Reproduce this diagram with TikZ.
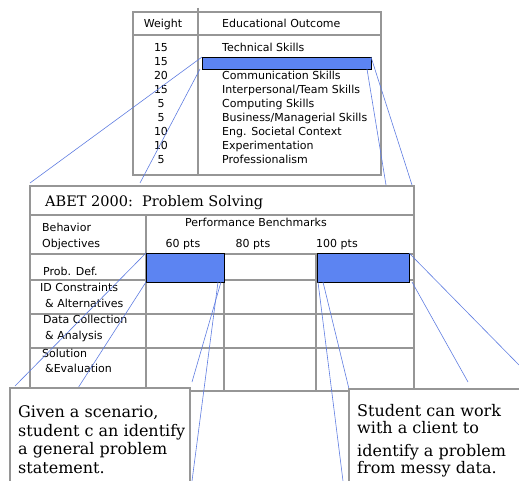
\documentclass[tikz,border=0pt]{standalone}
\usepackage{fontspec}
\setmainfont{DejaVu Serif}
\newfontfamily\tabsans{DejaVu Sans}
\definecolor{barblue}{RGB}{92,132,242}
\definecolor{linkblue}{RGB}{95,125,225}
\definecolor{gridgray}{RGB}{150,150,150}
\begin{document}
\begin{tikzpicture}[x=1pt,y=-1pt,
  grid/.style={draw=gridgray,line width=1.1pt},
  tabbox/.style={grid,inner sep=0pt,outer sep=0pt,anchor=north west},
  bluebar/.style={draw=black,line width=0.9pt,fill=barblue,inner sep=0pt,outer sep=0pt,anchor=north west},
  link/.style={draw=linkblue,line width=0.6pt},
  small/.style={font=\tabsans\fontsize{11}{13}\selectfont,inner sep=0pt},
  big/.style={font=\fontsize{16}{19}\selectfont,inner sep=0pt,anchor=base west},
  titlefont/.style={font=\fontsize{14.5}{17}\selectfont,inner sep=0pt,anchor=base west}
]
\useasboundingbox (0,0) rectangle (519,481);

% ---------- top table ----------
\node[tabbox,minimum width=248pt,minimum height=163pt] (toptab) at (133,12) {};
\draw[grid] (133,35) -- (381,35);
\draw[grid] (198,8) -- (198,175);
\node[small,anchor=base] (hw) at (163,28) {Weight};
\node[small,anchor=base west] (ho) at (222,28) {Educational Outcome};

\node[small,anchor=base] (w1) at (161,51.5) {15};
\node[small,anchor=base] (w2) at (161,65.5) {15};
\node[small,anchor=base] (w3) at (161,79.5) {20};
\node[small,anchor=base] (w4) at (161,93.5) {15};
\node[small,anchor=base] (w5) at (161,107.5) {5};
\node[small,anchor=base] (w6) at (161,121.5) {5};
\node[small,anchor=base] (w7) at (161,135.5) {10};
\node[small,anchor=base] (w8) at (161,149.5) {10};
\node[small,anchor=base] (w9) at (161,163.5) {5};

\node[small,anchor=base west] (o1) at (222,51.5) {Technical Skills};
\node[small,anchor=base west] (o3) at (222,79.5) {Communication Skills};
\node[small,anchor=base west] (o4) at (222,93.5) {Interpersonal/Team Skills};
\node[small,anchor=base west] (o5) at (222,107.5) {Computing Skills};
\node[small,anchor=base west] (o6) at (222,121.5) {Business/Managerial Skills};
\node[small,anchor=base west] (o7) at (222,135.5) {Eng. Societal Context};
\node[small,anchor=base west] (o8) at (222,149.5) {Experimentation};
\node[small,anchor=base west] (o9) at (222,163.5) {Professionalism};

\node[bluebar,minimum width=169pt,minimum height=12pt] (topbar) at (202,57) {};

% ---------- middle table ----------
\node[tabbox,minimum width=384pt,minimum height=205pt] (midtab) at (30,186) {};
\draw[grid] (30,215) -- (414,215);
\draw[grid] (30,254) -- (414,254);
\draw[grid] (30,280) -- (414,280);
\draw[grid] (30,314) -- (414,314);
\draw[grid] (30,348) -- (414,348);
\draw[grid] (146,215) -- (146,391);
\draw[grid] (224,254) -- (224,391);
\draw[grid] (316,254) -- (316,391);

\node[titlefont] (title) at (45,206) {ABET 2000:\ \ Problem Solving};
\node[small,anchor=base west] (beh) at (42,231) {Behavior};
\node[small,anchor=base west] (obj) at (42,247) {Objectives};
\node[small,anchor=base] (perf) at (256,226) {Performance Benchmarks};
\node[small,anchor=base] (p60) at (183,247) {60 pts};
\node[small,anchor=base] (p80) at (253,247) {80 pts};
\node[small,anchor=base] (p100) at (337,247) {100 pts};

\node[small,anchor=base west] (r1) at (43,275) {Prob. Def.};
\node[small,anchor=base west] (r2) at (40,291) {ID Constraints};
\node[small,anchor=base west] (r3) at (45,307) {\& Alternatives};
\node[small,anchor=base west] (r4) at (43,323) {Data Collection};
\node[small,anchor=base west] (r5) at (45,339) {\& Analysis};
\node[small,anchor=base west] (r6) at (42,357) {Solution};
\node[small,anchor=base west] (r7) at (45,372) {\&Evaluation};

\node[bluebar,minimum width=78pt,minimum height=29pt] (boxa) at (146,253) {};
\node[bluebar,minimum width=92pt,minimum height=29pt] (boxb) at (317,253) {};

% ---------- connector end points ----------
\coordinate (c1) at (30,183);
\coordinate (c2) at (140,183);
\coordinate (c3) at (412,185);
\coordinate (c4) at (386,185);
\coordinate (c5) at (15,386);
\coordinate (c6) at (78,388);
\coordinate (c7) at (192,382);
\coordinate (c8) at (192,481);
\coordinate (c9) at (343,481);
\coordinate (c10) at (349,389);
\coordinate (c11) at (468,382);
\coordinate (c12) at (519,365);

\draw[link] (topbar.north west) -- (c1);
\draw[link] ([xshift=-2pt]topbar.south west) -- (c2);
\draw[link] (topbar.north east) -- (c3);
\draw[link] ([xshift=-4pt]topbar.south east) -- (c4);

\draw[link] (boxa.north west) -- (c5);
\draw[link] (boxa.south west) -- (c6);
\draw[link] ([xshift=-3pt]boxa.south east) -- (c7);
\draw[link] ([xshift=-6pt]boxa.south east) -- (c8);

\draw[link] ([xshift=1pt]boxb.south west) -- (c9);
\draw[link] ([xshift=6pt]boxb.south west) -- (c10);
\draw[link] ([xshift=3pt]boxb.south east) -- (c11);
\draw[link] (boxb.north east) -- (c12);

% ---------- bottom text boxes ----------
\node[tabbox,fill=white,minimum width=180pt,minimum height=110pt] (lbox) at (10,388) {};
\node[big] (l1) at (18,417) {Given a scenario,};
\node[big] (l2) at (18,436) {student c an identify};
\node[big] (l3) at (18,454) {a general problem};
\node[big] (l4) at (18,473) {statement.};

\node[tabbox,fill=white,minimum width=200pt,minimum height=110pt] (rbox) at (349,389) {};
\node[big] (s1) at (357,416) {Student can work};
\node[big] (s2) at (357,433) {with a client to};
\node[big] (s3) at (357,456) {identify a problem};
\node[big] (s4) at (357,473) {from messy data.};
\end{tikzpicture}
\end{document}
